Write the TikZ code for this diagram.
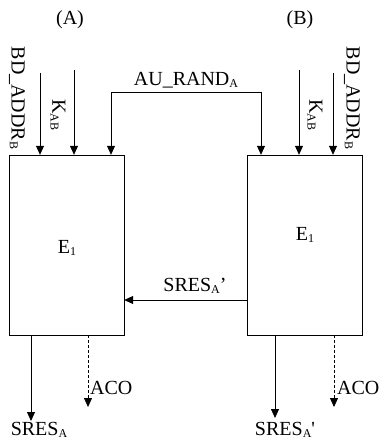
\documentclass[tikz,border=0pt]{standalone}
\usepackage{fontspec}
\setmainfont{Liberation Serif}
\usetikzlibrary{arrows.meta, positioning}
\newcommand{\lowsub}[1]{\raisebox{-0.2ex}{\fontsize{12}{12}\selectfont #1}}

\begin{document}
\begin{tikzpicture}[x=1pt, y=1pt, font=\fontsize{20}{22}\selectfont, >={Triangle[length=9pt,width=8pt]},
    block/.style={draw, minimum width=115pt, minimum height=180pt, inner sep=0pt},
    flow/.style={->, line width=0.8pt},
    aux/.style={->, line width=0.8pt, dash pattern=on 3pt off 2pt},
    lbl/.style={inner sep=0pt}]
    \useasboundingbox (0,0) rectangle (380,-441);
    \node[block] (encA) at (66.5,-245) {};
    \node[block] (encB) at (304.5,-245) {};
    \node[lbl] (eA) at (67,-248) {E\lowsub{1}};
    \node[lbl] (eB) at (305,-235) {E\lowsub{1}};
    \node[lbl] (sideA) at (70,-20) {(A)};
    \node[lbl] (sideB) at (300,-20) {(B)};

    % inputs
    \coordinate (bdA) at (40,-73);
    \coordinate (kA) at (74,-70);
    \coordinate (randA) at (111,-92);
    \coordinate (randB) at (261,-92);
    \coordinate (kB) at (299,-70);
    \coordinate (bdB) at (333,-73);
    \draw[flow] (bdA) -- (bdA |- encA.north);
    \draw[flow] (kA) -- (kA |- encA.north);
    \draw[flow] (kB) -- (kB |- encB.north);
    \draw[flow] (bdB) -- (bdB |- encB.north);
    \draw[flow, <->] (randA |- encA.north) -- (randA) -- (randB) -- (randB |- encB.north);
    \node[lbl] (randlbl) at (186,-80) {AU\_RAND\lowsub{A}};
    \node[lbl, rotate=-90] (bdlblA) at (17,-98) {BD\_ADDR\lowsub{B}};
    \node[lbl, rotate=-90] (klblA) at (58,-115) {K\lowsub{AB}};
    \node[lbl, rotate=-90] (klblB) at (315,-115) {K\lowsub{AB}};
    \node[lbl, rotate=-90] (bdlblB) at (352,-98) {BD\_ADDR\lowsub{B}};

    % result of B back to A
    \coordinate (back) at (0,-300);
    \draw[flow] (encB.west |- back) -- (encA.east |- back);
    \node[lbl] (backlbl) at (195,-286) {SRES\lowsub{A}’};

    % outputs
    \coordinate (outA) at (31,-421);
    \coordinate (acoA) at (88,-407);
    \coordinate (outB) at (275,-418);
    \coordinate (acoB) at (334,-407);
    \draw[flow] (outA |- encA.south) -- (outA);
    \draw[aux] (acoA |- encA.south) -- (acoA);
    \draw[flow] (outB |- encB.south) -- (outB);
    \draw[aux] (acoB |- encB.south) -- (acoB);
    \node[lbl] (outlblA) at (39,-430) {SRES\lowsub{A}};
    \node[lbl, anchor=west] (acolblA) at (90,-388) {ACO};
    \node[lbl] (outlblB) at (285,-430) {SRES\lowsub{A}\textquotesingle};
    \node[lbl, anchor=west] (acolblB) at (337,-388) {ACO};
\end{tikzpicture}
\end{document}
